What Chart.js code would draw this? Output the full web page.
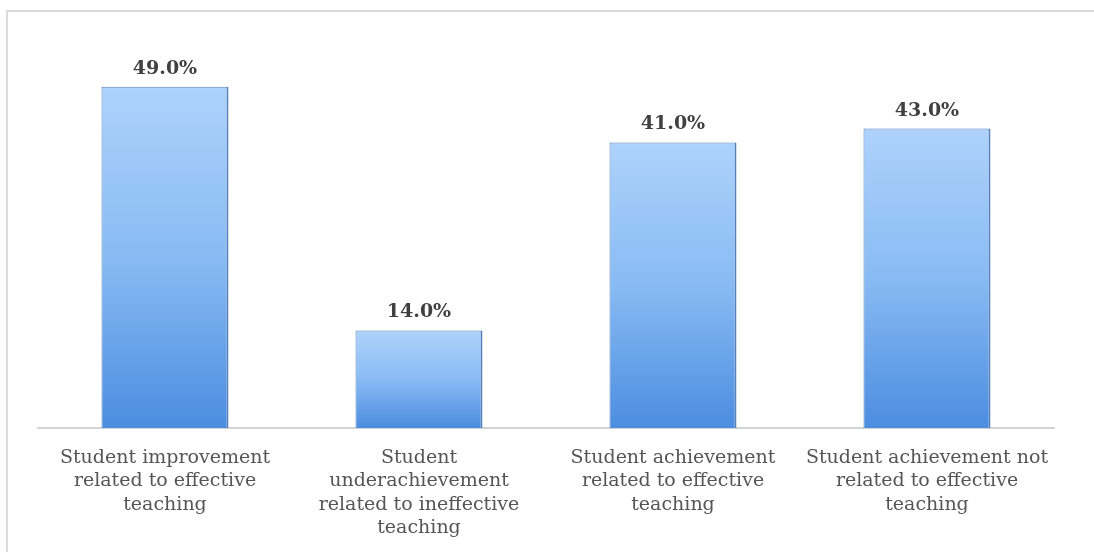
<!DOCTYPE html>
<html>
<head>
<meta charset="utf-8">
<script src="https://cdn.jsdelivr.net/npm/chart.js@4"></script>
<style>
body{margin:0;background:#fff;}
#frame{position:absolute;left:6px;top:10px;width:1100px;height:560px;border-top:2px solid #dcdcdc;border-left:2px solid #dcdcdc;}
#wrap{position:absolute;left:0;top:0;width:1094px;height:552px;}
</style>
</head>
<body>
<div id="frame"></div>
<div id="wrap"><canvas id="c"></canvas></div>
<script>
const categories=[
  ['Student improvement','related to effective','teaching'],
  ['Student','underachievement','related to ineffective','teaching'],
  ['Student achievement','related to effective','teaching'],
  ['Student achievement not','related to effective','teaching']
];
const values=[49,14,41,43];

const valueLabels={
  id:'valueLabels',
  afterDatasetsDraw(chart){
    const ctx=chart.ctx;
    const meta=chart.getDatasetMeta(0);
    ctx.save();
    ctx.font='bold 19px "DejaVu Serif"';
    ctx.fillStyle='#404040';
    ctx.textAlign='center';
    ctx.textBaseline='middle';
    meta.data.forEach((bar,i)=>{
      ctx.fillText(values[i].toFixed(1)+'%',bar.x,bar.y-18);
    });
    ctx.restore();
  }
};

function barFill(c){
  const chart=c.chart;
  if(!chart.chartArea||c.raw==null) return '#78aeee';
  const y=chart.scales.y;
  const top=y.getPixelForValue(c.raw);
  const bottom=y.getPixelForValue(0);
  const g=chart.ctx.createLinearGradient(0,top,0,bottom);
  g.addColorStop(0,'#aed2fb');
  g.addColorStop(0.5,'#88bbf3');
  g.addColorStop(1,'#4c8de0');
  return g;
}

new Chart(document.getElementById('c'),{
  type:'bar',
  data:{labels:categories,datasets:[{
    data:values,
    backgroundColor:barFill,
    borderColor:'#5580ba',
    borderWidth:{left:1,right:2,top:1,bottom:0},
    borderSkipped:false,
    categoryPercentage:1,
    barPercentage:0.5
  }]},
  options:{
    responsive:true,
    maintainAspectRatio:false,
    animation:false,
    layout:{padding:{left:38,right:40,top:45,bottom:0}},
    plugins:{legend:{display:false},tooltip:{enabled:false}},
    scales:{
      x:{
        grid:{display:false,drawTicks:false},
        border:{display:true,color:'#d4d4d4',width:2},
        ticks:{
          autoSkip:false,maxRotation:0,minRotation:0,padding:18,
          color:'#555555',
          font:{family:'"DejaVu Serif"',size:19,lineHeight:1.24}
        },
        afterFit(s){s.height=124;}
      },
      y:{display:false,min:0,max:55}
    }
  },
  plugins:[valueLabels]
});
</script>
</body>
</html>
